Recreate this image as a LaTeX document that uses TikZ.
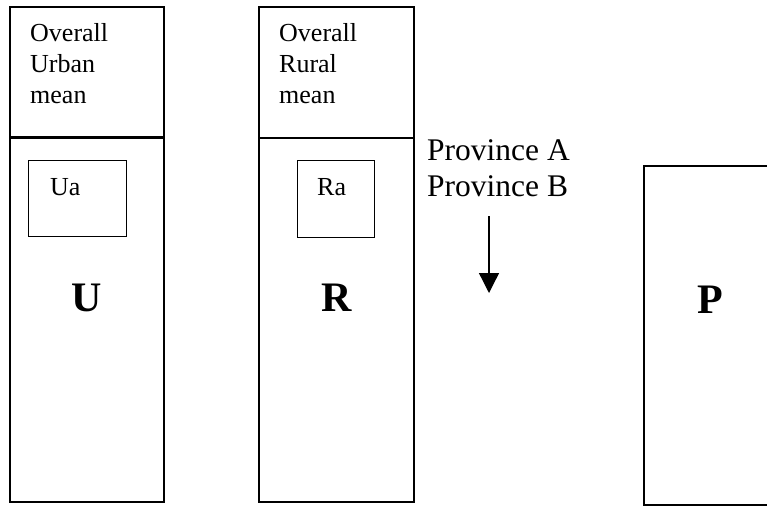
\documentclass[tikz,border=0pt]{standalone}
\usepackage{fontspec}
\setmainfont{Liberation Serif}
\usetikzlibrary{arrows.meta}
\begin{document}
\begin{tikzpicture}[x=1pt,y=-1pt,
  colbox/.style={draw, line width=1.6pt, inner sep=0pt, anchor=north west},
  subbox/.style={draw, line width=1.3pt, inner sep=0pt, anchor=north west},
  smalltxt/.style={font=\fontsize{26}{31}\selectfont, align=left, anchor=base west, inner sep=0pt},
  bigtxt/.style={font=\fontsize{42}{46}\selectfont\bfseries, anchor=base, inner sep=0pt},
  provtxt/.style={font=\fontsize{31.5}{36}\selectfont, align=left, anchor=base west, inner sep=0pt}]
\clip (0,0) rectangle (767,506);
% Urban column
\node[colbox, minimum width=154pt, minimum height=130pt] (utop) at (9,6) {};
\node[colbox, minimum width=154pt, minimum height=365pt] (ubot) at (9,136) {};
\draw[line width=2.4pt] (utop.south west) -- (utop.south east);
\node[smalltxt] (ut) at (30,103) {Overall\\Urban\\mean};
\node[subbox, minimum width=98pt, minimum height=76pt] (ua) at (28,160) {};
\node[smalltxt] (uat) at (50,195) {Ua};
\node[bigtxt] (U) at (86.5,311) {U};
% Rural column
\node[colbox, minimum width=155pt, minimum height=131pt] (rtop) at (258,6) {};
\node[colbox, minimum width=155pt, minimum height=364pt] (rbot) at (258,137) {};
\node[smalltxt] (rt) at (279,103) {Overall\\Rural\\mean};
\node[subbox, minimum width=77pt, minimum height=77pt] (ra) at (297,160) {};
\node[smalltxt] (rat) at (317,195) {Ra};
\node[bigtxt] (R) at (337,311) {R};
% Provinces
\node[provtxt] (prov) at (427,196) {Province A\\Province B};
\coordinate (astart) at (489,216);
\coordinate (aend) at (489,293);
\draw[line width=1.3pt, -{Triangle[width=20pt,length=20pt]}] (astart) -- (aend);
% P box
\node[colbox, minimum width=150pt, minimum height=339pt] (pbox) at (643,165) {};
\node[bigtxt] (P) at (710,313) {P};
\end{tikzpicture}
\end{document}
